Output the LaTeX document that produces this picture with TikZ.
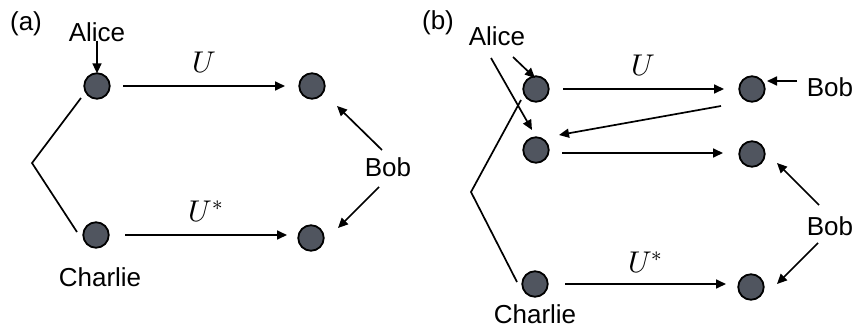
\documentclass[tikz,border=0pt]{standalone}
\usepackage{fontspec}
\setmainfont{Liberation Sans}
\usepackage{unicode-math}
\setmathfont{Latin Modern Math}
\usetikzlibrary{arrows.meta}
\definecolor{qubit}{HTML}{50555F}
\begin{document}
\begin{tikzpicture}[x=1pt,y=-1pt,
  qb/.style={circle,draw=black,line width=1.8pt,fill=qubit,minimum size=25.5pt,inner sep=0pt},
  lbl/.style={font=\fontsize{26}{30}\selectfont,inner sep=0pt},
  mlbl/.style={font=\fontsize{30}{34}\selectfont,inner sep=0pt},
  arr/.style={line width=1.7pt,-{Triangle[length=10pt,width=9pt]}},
  ln/.style={line width=1.7pt}]
\useasboundingbox (0,0) rectangle (855,329);

% ---------- panel (a) ----------
\node[lbl] (ta) at (26,24) {(a)};
\node[lbl] (aliceA) at (97,32) {Alice};
\node[lbl] (bobA) at (388,167) {Bob};
\node[lbl] (charlieA) at (100,277) {Charlie};

\node[qb] (a1) at (97,86) {};
\node[qb] (b1) at (312,86) {};
\node[qb] (c1) at (96,235) {};
\node[qb] (b2) at (311,238) {};

\coordinate (kA) at (32,163);
\draw[ln] (81,98) -- (kA) -- (77,232);

\draw[arr] ([yshift=1pt]aliceA.south) -- ([yshift=-1pt]a1.north);
\draw[arr] (123,86) -- node[mlbl,above=12pt] (ua) {$U$} (285,86);
\draw[arr] (125,235) -- node[mlbl,above=12pt] (usa) {$U^{*}$} (287,235);
\draw[arr] (382,150) -- (337,106);
\draw[arr] (379,187) -- (338,228);

% ---------- panel (b) ----------
\node[lbl] (tb) at (438,23) {(b)};
\node[lbl] (aliceB) at (497,36) {Alice};
\node[lbl] (bobB1) at (830,87) {Bob};
\node[lbl] (bobB2) at (830,226) {Bob};
\node[lbl] (charlieB) at (535,314.5) {Charlie};

\node[qb] (p1) at (536,89) {};
\node[qb] (p2) at (536,150) {};
\node[qb] (p3) at (535,284) {};
\node[qb] (q1) at (752,89) {};
\node[qb] (q2) at (752,154) {};
\node[qb] (q3) at (751,287) {};

\coordinate (kB) at (471,192);
\draw[ln] (521,100) -- (kB) -- (517,282);

\draw[arr] (513,57) -- (535,78);
\draw[arr] (491,58) -- (532,130);
\draw[arr] (563,89) -- node[mlbl,above=12pt] (ub) {$U$} (724,89);
\draw[arr] (721,106) -- (559,135);
\draw[arr] (562,153) -- (723,153);
\draw[arr] (565,284) -- node[mlbl,above=10pt] (usb) {$U^{*}$} (726,284);
\draw[arr] (797,81) -- (767,81);
\draw[arr] (819,205) -- (777,163);
\draw[arr] (818,243) -- (777,284);
\end{tikzpicture}
\end{document}
